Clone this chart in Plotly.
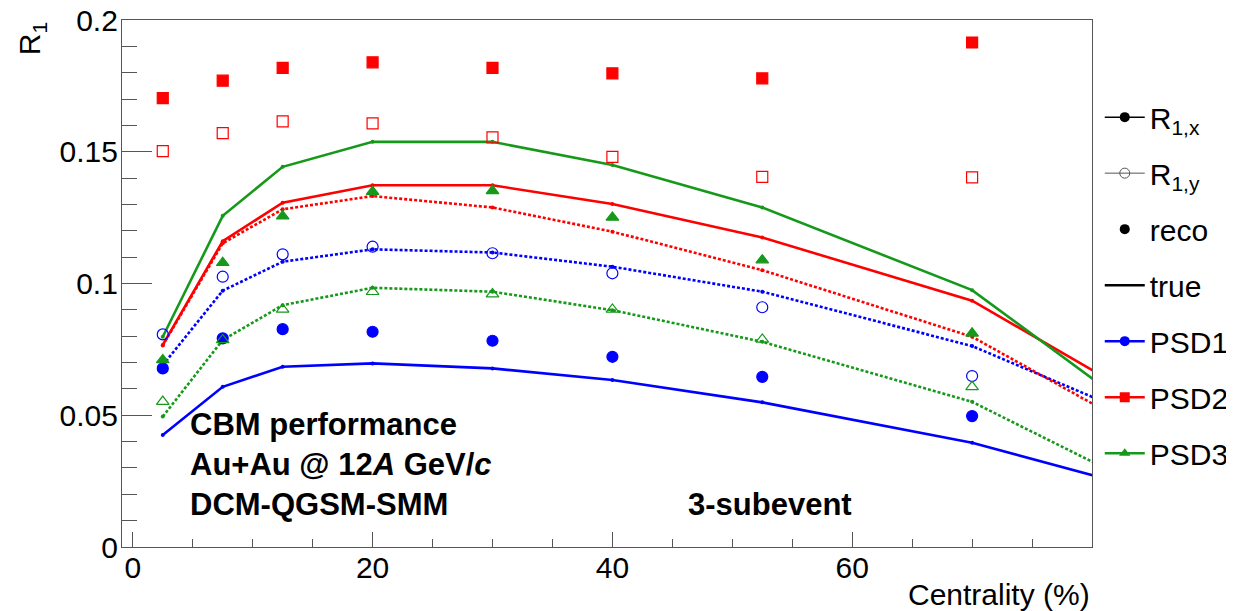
import plotly.graph_objects as go

# ---------------- data ----------------
cent = [2.5, 7.5, 12.5, 20, 30, 40, 52.5, 70]
cent_true = [2.5, 7.5, 12.5, 20, 30, 40, 52.5, 70, 90]

# true (lines): solid = R1,x ; dotted = R1,y
psd1_true_x = [0.0425, 0.0608, 0.0684, 0.0697, 0.0678, 0.0634, 0.0549, 0.0396, 0.0150]
psd1_true_y = [0.0690, 0.0973, 0.1083, 0.1130, 0.1118, 0.1064, 0.0969, 0.0763, 0.0377]
psd2_true_x = [0.0767, 0.1161, 0.1307, 0.1373, 0.1373, 0.1302, 0.1175, 0.0935, 0.0409]
psd2_true_y = [0.0765, 0.1153, 0.1282, 0.1332, 0.1289, 0.1197, 0.1051, 0.0798, 0.0292]
psd3_true_x = [0.0798, 0.1257, 0.1443, 0.1538, 0.1538, 0.1450, 0.1289, 0.0975, 0.0305]
psd3_true_y = [0.0495, 0.0786, 0.0918, 0.0984, 0.0969, 0.0899, 0.0779, 0.0551, 0.0097]

# reco (markers): filled = R1,x ; open = R1,y
psd1_reco_x = [0.0678, 0.0792, 0.0827, 0.0817, 0.0783, 0.0722, 0.0646, 0.0497]
psd1_reco_y = [0.0807, 0.1026, 0.1111, 0.1140, 0.1115, 0.1039, 0.0910, 0.0649]
psd2_reco_x = [0.1704, 0.1770, 0.1819, 0.1840, 0.1819, 0.1798, 0.1779, 0.1915]
psd2_reco_y = [0.1503, 0.1571, 0.1616, 0.1608, 0.1555, 0.1481, 0.1405, 0.1403]
psd3_reco_x = [0.0710, 0.1079, 0.1256, 0.1349, 0.1352, 0.1251, 0.1089, 0.0811]
psd3_reco_y = [0.0552, 0.0786, 0.0902, 0.0969, 0.0960, 0.0902, 0.0788, 0.0608]

x_ticks = [0, 20, 40, 60]
y_ticks = [0, 0.05, 0.1, 0.15, 0.2]
y_tick_labels = ["0", "0.05", "0.1", "0.15", "0.2"]

legend_labels = ["R<sub>1,x</sub>", "R<sub>1,y</sub>", "reco", "true", "PSD1", "PSD2", "PSD3"]

BLUE = "#0000ff"
RED = "#ff0000"
GREEN = "#16991a"
FONT = "Liberation Sans, Arial, Helvetica, sans-serif"

fig = go.Figure()

# true lines
for ys, col, dash in [
    (psd1_true_x, BLUE, "solid"), (psd2_true_x, RED, "solid"), (psd3_true_x, GREEN, "solid"),
    (psd1_true_y, BLUE, "3px,2px"), (psd2_true_y, RED, "3px,2px"), (psd3_true_y, GREEN, "3px,2px"),
]:
    fig.add_trace(go.Scatter(
        x=cent_true, y=ys, mode="lines+markers",
        line=dict(color=col, width=2.6, dash=dash),
        marker=dict(color=col, size=4, symbol="circle"),
        showlegend=False, hoverinfo="skip"))

# reco markers
for ys, col, sym in [
    (psd1_reco_x, BLUE, "circle"), (psd2_reco_x, RED, "square"), (psd3_reco_x, GREEN, "triangle-up"),
    (psd1_reco_y, BLUE, "circle-open"), (psd2_reco_y, RED, "square-open"), (psd3_reco_y, GREEN, "triangle-up-open"),
]:
    fig.add_trace(go.Scatter(
        x=cent, y=ys, mode="markers",
        marker=dict(color=col, size=11, symbol=sym, line=dict(color=col, width=1.2)),
        showlegend=False))

# legend entries
leg_styles = [
    dict(mode="lines+markers", line=dict(color="black", width=1.5), marker=dict(color="black", size=10, symbol="circle")),
    dict(mode="lines+markers", line=dict(color="#555555", width=1), marker=dict(color="#555555", size=10, symbol="circle-open")),
    dict(mode="markers", marker=dict(color="black", size=10, symbol="circle")),
    dict(mode="lines", line=dict(color="black", width=2.5)),
    dict(mode="lines+markers", line=dict(color=BLUE, width=2.5), marker=dict(color=BLUE, size=10, symbol="circle")),
    dict(mode="lines+markers", line=dict(color=RED, width=2.5), marker=dict(color=RED, size=10, symbol="square")),
    dict(mode="lines+markers", line=dict(color=GREEN, width=2.5), marker=dict(color=GREEN, size=10, symbol="triangle-up")),
]
for i, (lab, st) in enumerate(zip(legend_labels, leg_styles)):
    fig.add_trace(go.Scatter(x=[None], y=[None], name=lab, legendgroup=f"g{i}", showlegend=True, **st))

axis_common = dict(
    showgrid=False, zeroline=False, showline=True, linecolor="#555555", linewidth=1.2,
    mirror=True, ticks="inside", tickcolor="#555555", automargin=False,
    tickfont=dict(family=FONT, size=30, color="black"),
)

fig.update_xaxes(
    range=[-0.9, 80], tickvals=x_ticks, ticklen=15, tickwidth=1.2, ticklabelstandoff=-6,
    minor=dict(dtick=5, ticklen=8, ticks="inside", tickcolor="#555555", tickwidth=1.2),
    **axis_common)
fig.update_yaxes(
    range=[0, 0.20005], tickvals=y_ticks, ticktext=y_tick_labels, ticklen=30, tickwidth=1.2,
    ticklabelstandoff=-3, ticklabeloverflow="allow",
    minor=dict(dtick=0.01, ticklen=15, ticks="inside", tickcolor="#555555", tickwidth=1.2),
    **axis_common)

txt = dict(family=FONT, size=30, color="black")
btxt = dict(family=FONT, size=31, color="black")
annos = [
    dict(text="<b>CBM performance</b>", x=0.068, y=0.2315, xanchor="left", yanchor="middle", font=btxt),
    dict(text="<b>Au+Au @ 12<i>A</i> GeV/<i>c</i></b>", x=0.068, y=0.1556, xanchor="left", yanchor="middle", font=btxt),
    dict(text="<b>DCM-QGSM-SMM</b>", x=0.068, y=0.0797, xanchor="left", yanchor="middle", font=btxt),
    dict(text="<b>3-subevent</b>", x=0.5814, y=0.0797, xanchor="left", yanchor="middle", font=btxt),
    dict(text="Centrality (%)", x=1.0, y=-0.091, xanchor="right", yanchor="middle", font=txt),
    dict(text="R<sub>1</sub>", x=-0.093, y=1.0, xanchor="center", yanchor="top", textangle=-90, font=txt),
]
for a in annos:
    fig.add_annotation(xref="paper", yref="paper", showarrow=False, **a)

# page body has an 8px margin: figure is drawn at (8, 8)
fig.update_layout(
    width=1226, height=603,
    margin=dict(l=114, r=142, t=12, b=64, autoexpand=False),
    paper_bgcolor="white", plot_bgcolor="white",
    showlegend=True,
    legend=dict(
        x=1.008, y=0.865, xanchor="left", yanchor="top",
        font=dict(family=FONT, size=30, color="black"),
        bgcolor="rgba(0,0,0,0)", borderwidth=0,
        traceorder="grouped", tracegroupgap=14, itemwidth=40,
    ),
)

fig.write_html("out.html")
